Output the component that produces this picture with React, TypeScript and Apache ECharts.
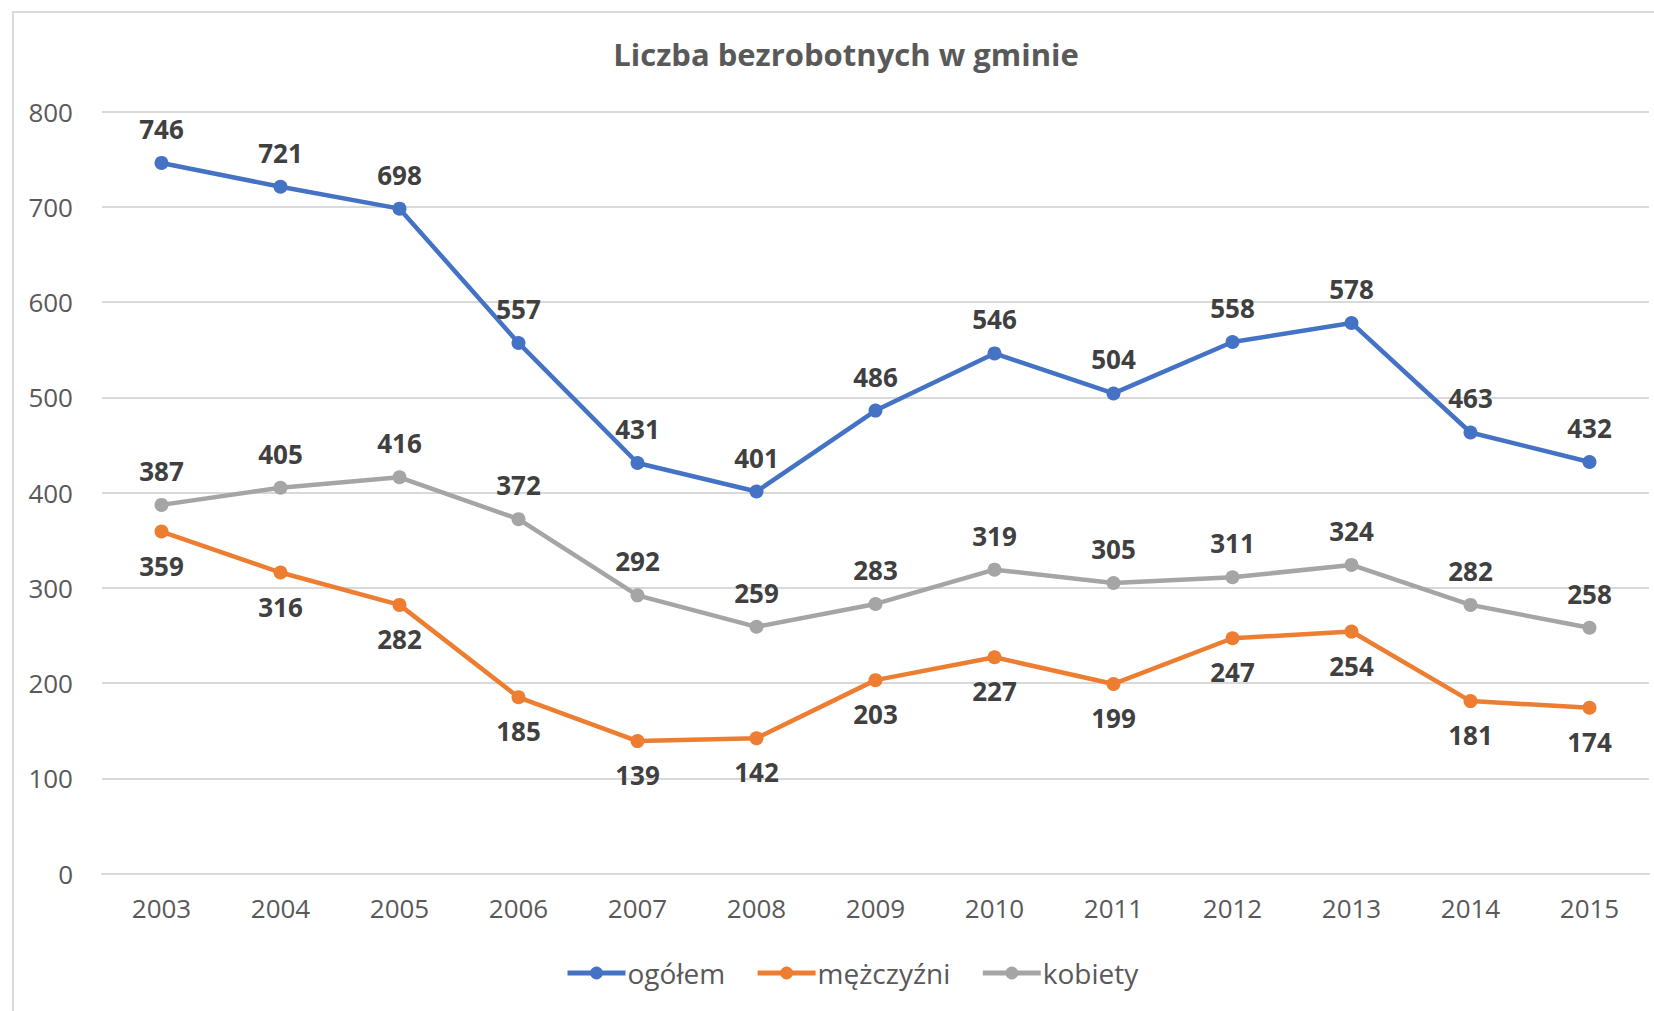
import React, { useEffect, useRef } from "react";
import * as echarts from "echarts";

const years = ["2003", "2004", "2005", "2006", "2007", "2008", "2009", "2010", "2011", "2012", "2013", "2014", "2015"];
const ogolem = [746, 721, 698, 557, 431, 401, 486, 546, 504, 558, 578, 463, 432];
const mezczyzni = [359, 316, 282, 185, 139, 142, 203, 227, 199, 247, 254, 181, 174];
const kobiety = [387, 405, 416, 372, 292, 259, 283, 319, 305, 311, 324, 282, 258];
const seriesNames = ["ogółem", "mężczyźni", "kobiety"];
const colors = ["#4472C4", "#ED7D31", "#A5A5A5"];

const FONT = "'Open Sans', 'Noto Sans', sans-serif";

export default function App() {
  const ref = useRef<HTMLDivElement>(null);
  useEffect(() => {
    if (!ref.current) return;
    const chart = echarts.init(ref.current, null, { renderer: "svg" });
    const mk = (name: string, data: number[], color: string, pos: string) => ({
      name,
      type: "line",
      data,
      symbol: "circle",
      symbolSize: 14,
      lineStyle: { width: 4.5, color },
      itemStyle: { color },
      label: {
        show: true,
        position: pos,
        distance: 14,
        color: "#404040",
        fontFamily: FONT,
        fontWeight: "bold",
        fontSize: 26,
      },
    });
    chart.setOption({
      animation: false,
      backgroundColor: "#ffffff",
      textStyle: { fontFamily: FONT },
      title: {
        text: "Liczba bezrobotnych w gminie",
        left: 841,
        textAlign: "center",
        top: 33,
        textStyle: { fontFamily: FONT, fontWeight: "bold", fontSize: 31, color: "#595959" },
      },
      legend: {
        data: seriesNames,
        left: 560,
        top: 954,
        itemWidth: 58,
        itemHeight: 16,
        itemGap: 30,
        lineStyle: { width: 5 },
        textStyle: { fontFamily: FONT, fontSize: 28, color: "#595959", padding: [0, 0, 0, -3] },
      },
      grid: { left: 102, right: 5, top: 111.5, bottom: 137.5, containLabel: false },
      xAxis: {
        type: "category",
        data: years,
        boundaryGap: true,
        axisLine: { show: true, lineStyle: { color: "#D9D9D9", width: 2 } },
        axisTick: { show: false },
        axisLabel: { color: "#595959", fontSize: 26, fontFamily: FONT, margin: 21 },
      },
      yAxis: {
        type: "value",
        min: 0,
        max: 800,
        interval: 100,
        axisLine: { show: false },
        axisTick: { show: false },
        splitLine: { lineStyle: { color: "#D9D9D9", width: 2 } },
        axisLabel: { color: "#595959", fontSize: 26, fontFamily: FONT, margin: 29 },
      },
      graphic: [
        {
          type: "rect",
          shape: { x: 13, y: 12, width: 1800, height: 1200 },
          style: { fill: "none", stroke: "#D9D9D9", lineWidth: 2 },
          silent: true,
          z: -1,
        },
      ],
      series: [
        mk(seriesNames[0], ogolem, colors[0], "top"),
        mk(seriesNames[1], mezczyzni, colors[1], "bottom"),
        mk(seriesNames[2], kobiety, colors[2], "top"),
      ],
    });
    return () => chart.dispose();
  }, []);
  return <div ref={ref} style={{ position: "fixed", left: 0, top: 0, width: 1654, height: 1011 }} />;
}
